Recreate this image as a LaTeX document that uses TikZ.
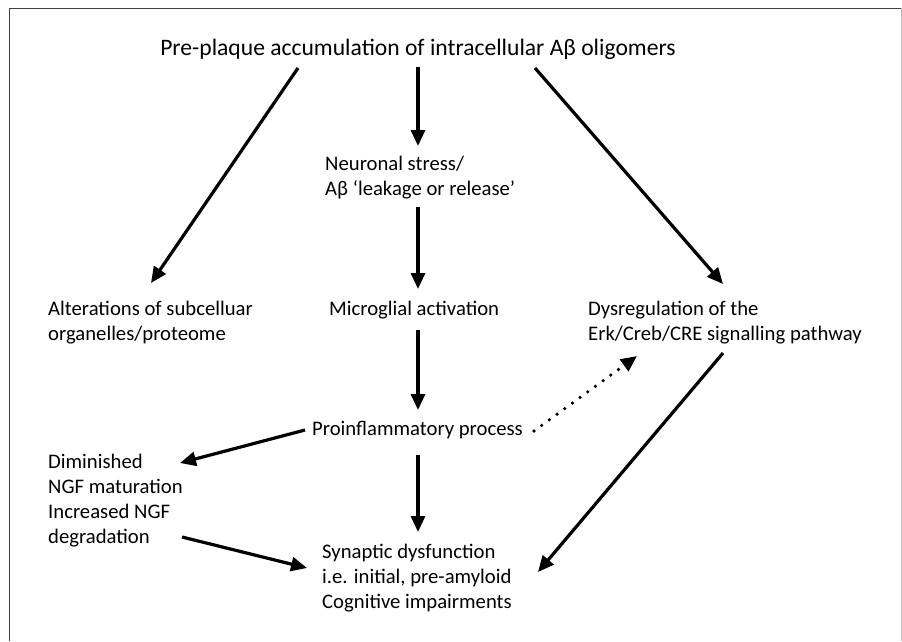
\documentclass[tikz,border=0pt]{standalone}
\usepackage{fontspec}
\setmainfont{Carlito}
\usetikzlibrary{arrows.meta}
\begin{document}
\begin{tikzpicture}[x=1pt,y=-1pt,
  lbl/.style={inner sep=0pt, anchor=base west, align=left, font=\fontsize{20.7}{25}\selectfont},
  ttl/.style={inner sep=0pt, anchor=base, font=\fontsize{23.6}{26}\selectfont},
  arr/.style={line width=3.2pt, -{Triangle[length=16pt,width=14pt]}},
  dotarr/.style={line width=3.6pt, line cap=round, dash pattern=on 0pt off 9.5pt, -{Triangle[length=16pt,width=14pt]}},
  frameln/.style={line width=1pt}]
\useasboundingbox (0,0) rectangle (902,641);
\fill[white] (0,0) rectangle (902,641);
\draw[frameln, black!75] (9,641) -- (9,8) -- (901,8);
\draw[frameln, black!25] (901,8) -- (901,641);

% multi-line nodes: base anchor is the baseline of the last line
\node[ttl] (title) at (418,55) {Pre-plaque accumulation of intracellular Aβ oligomers};
\node[lbl] (neur) at (325,195) {Neuronal stress/\\Aβ ‘leakage or release’};
\node[lbl] (alt) at (48,340) {Alterations of subcelluar\\organelles/proteome};
\node[lbl] (micro) at (329,315) {Microglial activation};
\node[lbl] (dys) at (588,340) {Dysregulation of the\\Erk/Creb/CRE signalling pathway};
\node[lbl] (pro) at (312,435) {Proinflammatory process};
\node[lbl] (ngf) at (48,543) {Diminished\\NGF maturation\\Increased NGF\\degradation};
\node[lbl] (syn) at (322,608) {Synaptic dysfunction\\i.e. initial, pre-amyloid\\Cognitive impairments};

\coordinate (t1) at (298,68);  \coordinate (alt-in) at (151,283);
\coordinate (t2) at (418,67);  \coordinate (neur-in) at (418,146);
\coordinate (t3) at (535,68);  \coordinate (dys-in) at (723,284);
\coordinate (neur-out) at (418,207); \coordinate (micro-in) at (418,289);
\coordinate (micro-out) at (418,330); \coordinate (pro-in) at (418,410);
\coordinate (pro-out) at (418,455); \coordinate (syn-in) at (418,532);
\coordinate (pro-left) at (305,430); \coordinate (ngf-in) at (180,463);
\coordinate (pro-right) at (534,431); \coordinate (dys-in2) at (637,356);
\coordinate (dys-out) at (723,353); \coordinate (syn-in2) at (538,572);
\coordinate (ngf-out) at (182,537); \coordinate (syn-in3) at (307,568);

\draw[arr] (t1) -- (alt-in);
\draw[arr] (t2) -- (neur-in);
\draw[arr] (t3) -- (dys-in);
\draw[arr] (neur-out) -- (micro-in);
\draw[arr] (micro-out) -- (pro-in);
\draw[arr] (pro-out) -- (syn-in);
\draw[arr] (pro-left) -- (ngf-in);
\draw[dotarr] (pro-right) -- (dys-in2);
\draw[arr] (dys-out) -- (syn-in2);
\draw[arr] (ngf-out) -- (syn-in3);
\end{tikzpicture}
\end{document}
